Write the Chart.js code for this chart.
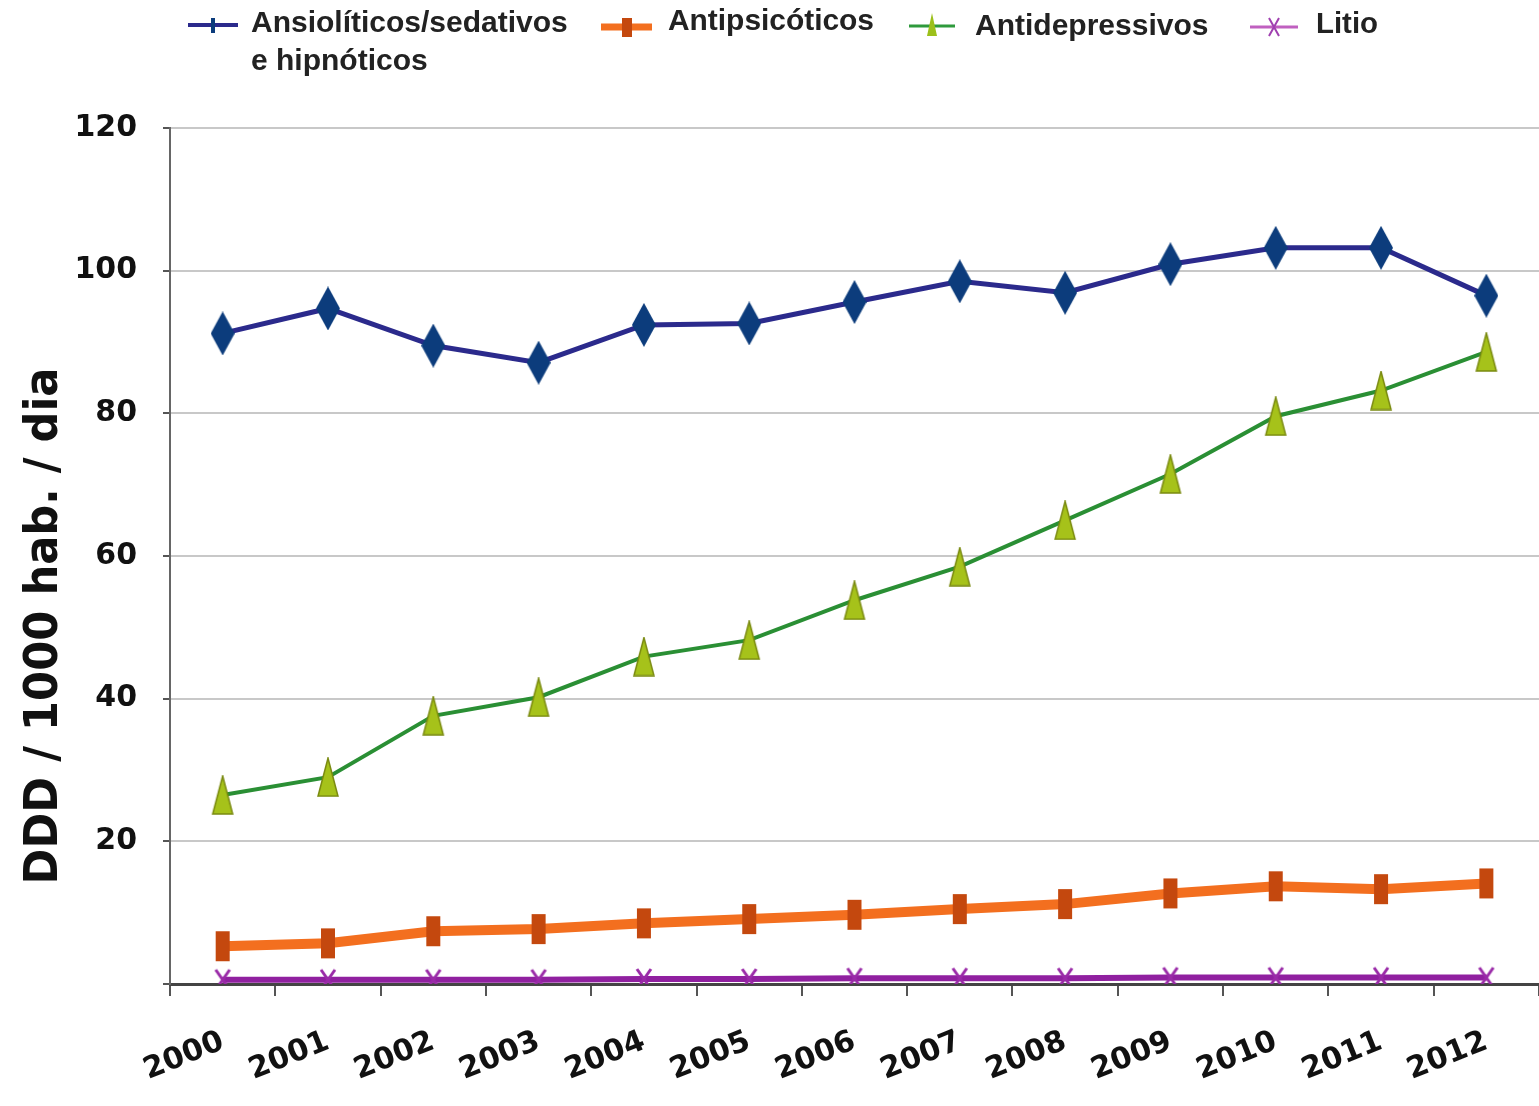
<!DOCTYPE html>
<html><head><meta charset="utf-8">
<script src="https://cdn.jsdelivr.net/npm/chart.js@4/dist/chart.umd.min.js"></script>
<style>html,body{margin:0;padding:0;background:#fff;overflow:hidden}canvas{display:block}</style>
</head><body><canvas id="c" width="1539" height="1106" style="width:1539px;height:1106px"></canvas>
<script>
const years = ['2000','2001','2002','2003','2004','2005','2006','2007','2008','2009','2010','2011','2012'];
const ansioliticos = [91.2,94.7,89.5,87.1,92.4,92.6,95.6,98.5,96.9,100.9,103.2,103.2,96.5];
const antipsicoticos = [5.3,5.7,7.4,7.7,8.5,9.1,9.7,10.5,11.2,12.7,13.7,13.3,14.1];
const antidepressivos = [26.5,29.0,37.6,40.2,45.9,48.2,53.8,58.5,65.0,71.5,79.6,83.2,88.6];
const litio = [0.6,0.6,0.6,0.6,0.7,0.7,0.8,0.8,0.8,0.9,0.9,0.9,0.9];
const yTicks = [0,20,40,60,80,100,120];
const seriesNames = ['Ansiolíticos/sedativos','Antipsicóticos','Antidepressivos','Litio'];
const seriesNameLine2 = 'e hipnóticos';
const yTitle = 'DDD / 1000 hab. / dia';

function mk(w,h,draw){const c=document.createElement('canvas');c.width=w;c.height=h;draw(c.getContext('2d'),w,h);return c;}
const diamond = mk(24,44,(g,w,h)=>{g.fillStyle='#0c3c7c';g.beginPath();g.moveTo(w/2,0);g.lineTo(w,h/2);g.lineTo(w/2,h);g.lineTo(0,h/2);g.closePath();g.fill();});
const rectM = mk(16,32,(g,w,h)=>{g.fillStyle='#c4480e';g.fillRect(1,1,w-2,h-2);});
const tri = mk(26,40,(g,w,h)=>{g.fillStyle='#a6c21a';g.strokeStyle='#7a8a10';g.lineWidth=1.5;g.beginPath();g.moveTo(w/2,1);g.lineTo(w-3,h-1);g.lineTo(3,h-1);g.closePath();g.fill();g.stroke();});
const xM = mk(18,24,(g,w,h)=>{g.strokeStyle='#9a2aa8';g.lineWidth=3;g.beginPath();g.moveTo(2,2);g.lineTo(w-2,h-2);g.moveTo(w-2,2);g.lineTo(2,h-2);g.stroke();});

const legendPlugin = {
  id:'customLegend',
  afterDraw(chart){
    const ctx = chart.ctx;
    ctx.save();
    ctx.lineCap='butt';
    ctx.strokeStyle='#2b2a8c';ctx.lineWidth=4;ctx.beginPath();ctx.moveTo(188,25);ctx.lineTo(238,25);ctx.stroke();
    ctx.strokeStyle='#0c3c7c';ctx.lineWidth=4;ctx.beginPath();ctx.moveTo(213,18);ctx.lineTo(213,33);ctx.stroke();
    ctx.strokeStyle='#f36f1f';ctx.lineWidth=7;ctx.beginPath();ctx.moveTo(601,27);ctx.lineTo(652,27);ctx.stroke();
    ctx.fillStyle='#c4480e';ctx.fillRect(622,18,10,19);
    ctx.strokeStyle='#2e9a3c';ctx.lineWidth=3;ctx.beginPath();ctx.moveTo(909,26);ctx.lineTo(955,26);ctx.stroke();
    ctx.fillStyle='#9cc01a';ctx.beginPath();ctx.moveTo(932,13);ctx.lineTo(937,36);ctx.lineTo(927,36);ctx.closePath();ctx.fill();
    ctx.strokeStyle='#c060c0';ctx.lineWidth=3;ctx.beginPath();ctx.moveTo(1250,27);ctx.lineTo(1298,27);ctx.stroke();
    ctx.strokeStyle='#a040b0';ctx.lineWidth=2;ctx.beginPath();ctx.moveTo(1269,18);ctx.lineTo(1279,36);ctx.moveTo(1279,18);ctx.lineTo(1269,36);ctx.stroke();
    ctx.fillStyle='#222';ctx.font='bold 30px "Liberation Sans", Arial, sans-serif';ctx.textBaseline='middle';ctx.textAlign='left';
    ctx.fillText(seriesNames[0],251,24,326);
    ctx.fillText(seriesNameLine2,251,62,184);
    ctx.fillText(seriesNames[1],668,22,206);
    ctx.fillText(seriesNames[2],975,27,237);
    ctx.fillText(seriesNames[3],1316,25,62);
    ctx.translate(45,626);ctx.rotate(-Math.PI/2);
    ctx.font='bold 46px "DejaVu Sans", sans-serif';ctx.textAlign='center';ctx.fillStyle='#111';
    ctx.fillText(yTitle,0,0,517);
    ctx.restore();
  }
};

new Chart(document.getElementById('c'),{
  type:'line',
  data:{labels:years,datasets:[
    {label:seriesNames[3],data:litio,borderColor:'#9020a0',borderWidth:6,pointStyle:xM,pointRadius:10,tension:0,order:4},
    {label:seriesNames[1],data:antipsicoticos,borderColor:'#f36f1f',borderWidth:10,pointStyle:rectM,pointRadius:12,tension:0,order:3},
    {label:seriesNames[2],data:antidepressivos,borderColor:'#2a8f34',borderWidth:4,pointStyle:tri,pointRadius:14,tension:0,order:2},
    {label:seriesNames[0],data:ansioliticos,borderColor:'#2b2a8c',borderWidth:5,pointStyle:diamond,pointRadius:16,tension:0,order:1}
  ]},
  options:{
    responsive:false,animation:false,devicePixelRatio:1,
    layout:{autoPadding:false,padding:{top:128,left:0,right:0,bottom:0}},
    plugins:{legend:{display:false},tooltip:{enabled:false}},
    scales:{
      x:{
        offset:true,
        afterFit(s){s.height=122;s.paddingLeft=0;s.paddingRight=0;},
        grid:{offset:true,drawOnChartArea:false,drawTicks:true,tickLength:12,color:'#555',lineWidth:2},
        border:{color:'#444',width:3},
        ticks:{minRotation:22,maxRotation:22,color:'#111',font:{family:'"DejaVu Sans", sans-serif',size:30,weight:'bold'},padding:28,autoSkip:false}
      },
      y:{
        min:0,max:120,
        afterFit(s){s.width=170;},
        afterBuildTicks(s){s.ticks=yTicks.map(v=>({value:v}));},
        grid:{color:'#c8c8c8',lineWidth:2,tickLength:7,tickColor:'#555'},
        border:{color:'#666',width:2},
        ticks:{color:'#111',font:{family:'"DejaVu Sans", sans-serif',size:30,weight:'bold'},padding:26,callback:v=>v===0?'':String(v)}
      }
    }
  },
  plugins:[legendPlugin]
});
</script></body></html>
